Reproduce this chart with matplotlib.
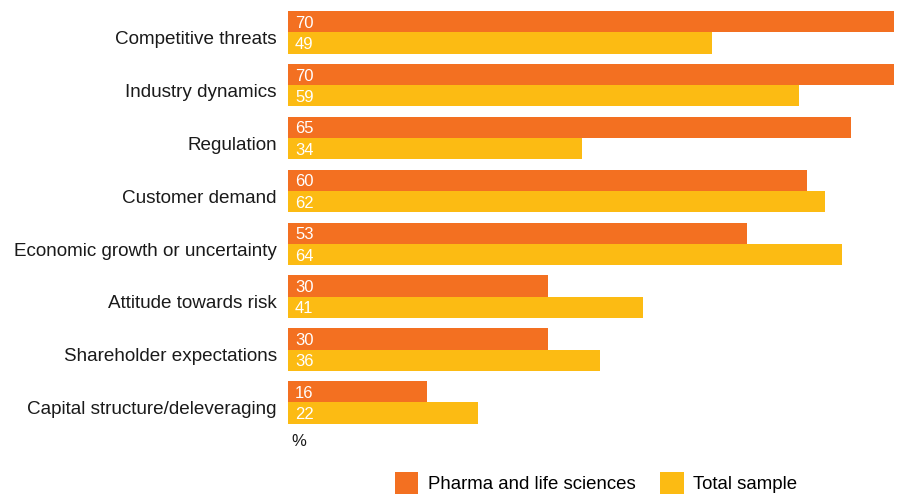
import numpy as np
import matplotlib.pyplot as plt

plt.rcParams['font.family'] = ['Liberation Sans', 'DejaVu Sans']

categories = [
    'Competitive threats',
    'Industry dynamics',
    'Regulation',
    'Customer demand',
    'Economic growth or uncertainty',
    'Attitude towards risk',
    'Shareholder expectations',
    'Capital structure/deleveraging',
]
pharma = [70, 70, 65, 60, 53, 30, 30, 16]
total = [49, 59, 34, 62, 64, 41, 36, 22]

ORANGE = '#F37021'
YELLOW = '#FCBB13'

fig = plt.figure(figsize=(9.01, 4.96), dpi=100)
ax = fig.add_axes([288 / 901, 1 - 423.7 / 496, (894 - 288) / 901, (423.7 - 11) / 496])

y = np.arange(len(categories))
h = 0.402
ax.barh(y - h / 2, pharma, height=h, color=ORANGE, label='Pharma and life sciences')
ax.barh(y + h / 2, total, height=h, color=YELLOW, label='Total sample')

# value labels inside the bars
for yi, p, t in zip(y, pharma, total):
    ax.text(0.8, yi - h / 2 + 0.03, str(p), color='white', fontsize=12, va='center', ha='left')
    ax.text(0.8, yi + h / 2 + 0.03, str(t), color='white', fontsize=12, va='center', ha='left')

ax.set_xlim(0, 70)
ax.set_ylim(7 + h, -h)
ax.set_yticks(y + 0.1)
ax.set_yticklabels(categories, fontsize=13.6, color='#1a1a1a')
ax.tick_params(axis='y', length=0, pad=8)
ax.set_xticks([])
for s in ax.spines.values():
    s.set_visible(False)

fig.text(291 / 901, 1 - 441 / 496, '%', fontsize=12, va='center', ha='left', color='#1a1a1a')

fig.legend(loc='center left', bbox_to_anchor=(395 / 901, 1 - 483 / 496), ncol=2,
           frameon=False, fontsize=13.4, handlelength=1.25, handleheight=1.4,
           handletextpad=0.5, columnspacing=1.35, borderaxespad=0, borderpad=0)

fig.savefig('out.png', dpi=100)
